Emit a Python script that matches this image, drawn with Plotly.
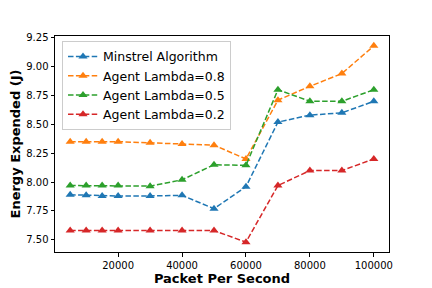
import plotly.graph_objects as go

x_pps = [5000, 10000, 15000, 20000, 30000, 40000, 50000, 60000, 70000, 80000, 90000, 100000]
minstrel = [7.89, 7.885, 7.88, 7.88, 7.88, 7.885, 7.77, 7.96, 8.52, 8.58, 8.60, 8.70]
lambda_08 = [8.35, 8.35, 8.35, 8.35, 8.34, 8.33, 8.32, 8.20, 8.71, 8.83, 8.94, 9.18]
lambda_05 = [7.97, 7.97, 7.97, 7.97, 7.965, 8.02, 8.15, 8.145, 8.80, 8.70, 8.70, 8.80]
lambda_02 = [7.58, 7.58, 7.58, 7.58, 7.58, 7.58, 7.58, 7.48, 7.97, 8.10, 8.10, 8.20]

series = [
    ("Minstrel Algorithm", minstrel, "#1f77b4"),
    ("Agent Lambda=0.8", lambda_08, "#ff7f0e"),
    ("Agent Lambda=0.5", lambda_05, "#2ca02c"),
    ("Agent Lambda=0.2", lambda_02, "#d62728"),
]

fig = go.Figure()
for name, vals, color in series:
    fig.add_trace(go.Scatter(
        x=x_pps, y=vals, name=name, mode="lines+markers",
        line=dict(color=color, width=1.5, dash="5.5px,2.4px"),
        marker=dict(symbol="triangle-up", size=8, color=color),
    ))

axis_common = dict(
    showgrid=False, zeroline=False, showline=True, linecolor="black", linewidth=1,
    mirror=True, ticks="outside", ticklen=3.5, tickwidth=1, tickcolor="black",
    tickfont=dict(family="DejaVu Sans", size=10, color="black"),
    automargin=False,
)

fig.update_layout(
    width=432, height=288,
    margin=dict(l=47, r=51, t=28, b=44),
    plot_bgcolor="white", paper_bgcolor="white",
    showlegend=True,
    legend=dict(
        x=0.021, y=0.977, xanchor="left", yanchor="top",
        font=dict(family="DejaVu Sans", size=12.5, color="black"),
        bgcolor="rgba(255,255,255,0.8)", bordercolor="#cccccc", borderwidth=1,
        tracegroupgap=0,
    ),
    xaxis=dict(
        range=[250, 104750],
        tickvals=[20000, 40000, 60000, 80000, 100000],
        ticktext=["20000", "40000", "60000", "80000", "100000"],
        title=dict(text="<b>Packet Per Second</b>", standoff=4,
                   font=dict(family="DejaVu Sans", size=13, color="black")),
        **axis_common,
    ),
    yaxis=dict(
        range=[7.3945, 9.2655],
        tickvals=[7.50, 7.75, 8.00, 8.25, 8.50, 8.75, 9.00, 9.25],
        ticktext=["7.50", "7.75", "8.00", "8.25", "8.50", "8.75", "9.00", "9.25"],
        title=dict(text="<b>Energy Expended (J)</b>", standoff=6,
                   font=dict(family="DejaVu Sans", size=13, color="black")),
        **axis_common,
    ),
)

fig.write_html("out.html")
